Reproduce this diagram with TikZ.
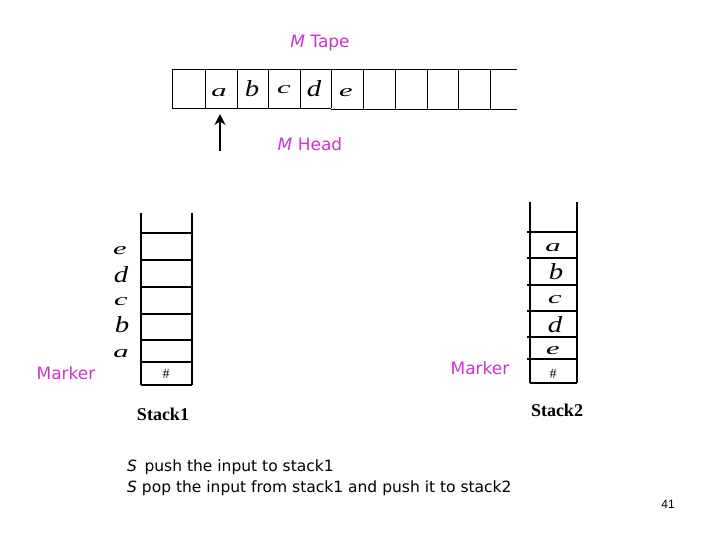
\documentclass[tikz,border=0pt]{standalone}
\usepackage{fontspec}
\setmainfont{Liberation Serif}
\newfontfamily\comic{DejaVu Sans}
\usetikzlibrary{arrows.meta}
\definecolor{mag}{RGB}{204,51,204}
\begin{document}
\begin{tikzpicture}[x=1pt,y=-1pt,
  thin line/.style={line width=0.9pt},
  stk/.style={line width=2.2pt},
  sym/.style={font=\fontsize{23}{23}\selectfont\itshape, inner sep=0pt, xscale=1.25},
  symsmall/.style={font=\fontsize{17}{17}\selectfont\itshape, inner sep=0pt, xscale=1.8},
  hash/.style={font=\fontsize{14}{14}\selectfont, inner sep=0pt},
  lbl/.style={font=\comic\fontsize{17}{17}\selectfont, text=mag, inner sep=0pt},
  stklbl/.style={font=\fontsize{18}{18}\selectfont\bfseries, inner sep=0pt},
  body/.style={font=\comic\fontsize{15.5}{15.5}\selectfont, inner sep=0pt, anchor=west}]
\useasboundingbox (0,0) rectangle (720,540);
% Tape
\draw[thin line] (172,69) -- (517,69);
\draw[thin line] (172,108) -- (331,108);
\draw[thin line] (331,109) -- (517,109);
\foreach \x in {172,205,237,268,300,331} \draw[thin line] (\x,69) -- (\x,108);
\foreach \x in {363,395,427,458,490} \draw[thin line] (\x,69) -- (\x,109);
\node[symsmall] (ta) at (219,93) {a};
\node[sym] (tb) at (252,89) {b};
\node[symsmall] (tc) at (284,90) {c};
\node[sym] (td) at (314,89) {d};
\node[symsmall] (te) at (346,93) {e};
\node[lbl] (tape) at (320,43) {\textit{M} Tape};
\node[lbl] (head) at (310,144) {\textit{M} Head};
\coordinate (arrs) at (220,151);
\coordinate (arre) at (220,114);
\draw[line width=2.6pt,-{Stealth[length=11pt,width=11pt]}] (arrs) -- (arre);
% Stack1
\draw[stk] (141,213) -- (141,385);
\draw[stk] (192,213) -- (192,385);
\foreach \y in {233,260,287,314,340,362} \draw[stk] (140,\y) -- (192,\y);
\draw[stk] (141,385) -- (192,385);
\node[symsmall] (s1e) at (120,251) {e};
\node[sym] (s1d) at (121,275) {d};
\node[symsmall] (s1c) at (121,302) {c};
\node[sym] (s1b) at (122,325) {b};
\node[symsmall] (s1a) at (121,354) {a};
\node[hash] (s1h) at (166,374) {\#};
\node[lbl] (m1) at (66,373) {Marker};
\node[stklbl] (st1) at (163,414) {Stack1};
% Stack2
\draw[stk] (530,202) -- (530,383);
\draw[stk] (577,202) -- (577,383);
\foreach \y in {232,258,285,311,337,359} \draw[stk] (527,\y) -- (578,\y);
\draw[stk] (530,383) -- (577,383);
\node[symsmall] (s2a) at (553,248) {a};
\node[sym] (s2b) at (556,272) {b};
\node[symsmall] (s2c) at (555,300) {c};
\node[sym] (s2d) at (555,325) {d};
\node[symsmall] (s2e) at (553,351) {e};
\node[hash] (s2h) at (553,374) {\#};
\node[lbl] (m2) at (480,368) {Marker};
\node[stklbl] (st2) at (557,410) {Stack2};
% Text
\node[body] (l1) at (127,467) {\textit{S}\, push the input to stack1};
\node[body] (l2) at (127,488) {\textit{S} pop the input from stack1 and push it to stack2};
\node[font=\fontspec{Liberation Sans}\fontsize{12}{12}\selectfont, inner sep=0pt] (pg) at (668,504) {41};
\end{tikzpicture}
\end{document}
